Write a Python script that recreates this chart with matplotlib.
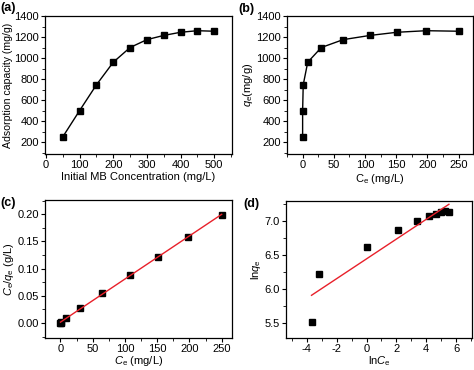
import matplotlib
matplotlib.use("Agg")
import matplotlib.pyplot as plt
from matplotlib.ticker import MultipleLocator
import numpy as np

plt.rcParams['font.family'] = ['Liberation Sans', 'DejaVu Sans']
plt.rcParams['mathtext.fontset'] = 'custom'
plt.rcParams['mathtext.rm'] = 'Liberation Sans'
plt.rcParams['mathtext.it'] = 'Liberation Sans:italic'
plt.rcParams['axes.unicode_minus'] = False

# data
C0 = [50, 100, 150, 200, 250, 300, 350, 400, 450, 500]          # initial MB conc (mg/L)
qe = [250, 500, 745, 960, 1100, 1175, 1215, 1245, 1260, 1255]   # mg/g
Ce = [0.025, 0.041, 1.0, 8.2, 30, 65, 108, 151, 198, 250]       # mg/L

Ce = np.array(Ce)
qe_a = np.array(qe, dtype=float)
ratio = Ce / qe_a          # Ce/qe (g/L)
lnC = np.log(Ce)
lnq = np.log(qe_a)

fig = plt.figure(figsize=(4.74, 3.70), dpi=100)
W, H = 474.0, 370.0
def box(l, t, r, b):
    return [l / W, 1 - b / H, (r - l) / W, (b - t) / H]

axa = fig.add_axes(box(45, 16, 232, 154))
axb = fig.add_axes(box(287, 16, 473, 154))
axc = fig.add_axes(box(45, 200, 232, 338))
axd = fig.add_axes(box(286, 201, 472, 338))

fs = 8
for ax in (axa, axb, axc, axd):
    ax.tick_params(which='both', direction='out', top=False, right=False, labelsize=fs, pad=1.5)
    ax.tick_params(which='major', length=3, width=0.8)
    ax.tick_params(which='minor', length=2, width=0.6)
    for s in ax.spines.values():
        s.set_linewidth(0.9)

# (a)
axa.plot(C0, qe, 'k-s', lw=1, ms=4.5)
axa.set_xlim(-3, 553)
axa.set_ylim(86, 1400)
axa.xaxis.set_major_locator(MultipleLocator(100))
axa.xaxis.set_minor_locator(MultipleLocator(50))
axa.yaxis.set_major_locator(MultipleLocator(200))
axa.yaxis.set_minor_locator(MultipleLocator(100))
axa.set_xlabel("Initial MB Concentration (mg/L)", fontsize=fs, labelpad=1)
axa.set_ylabel("Adsorption capacity (mg/g)", fontsize=7.6, labelpad=1)

# (b)
axb.plot(Ce, qe, 'k-s', lw=1, ms=4.5)
axb.set_xlim(-25, 273)
axb.set_ylim(86, 1400)
axb.xaxis.set_major_locator(MultipleLocator(50))
axb.xaxis.set_minor_locator(MultipleLocator(25))
axb.yaxis.set_major_locator(MultipleLocator(200))
axb.yaxis.set_minor_locator(MultipleLocator(100))
axb.set_xlabel(r"C$_\mathrm{e}$ (mg/L)", fontsize=fs, labelpad=1)
axb.set_ylabel(r"$q_\mathrm{e}$(mg/g)", fontsize=fs, labelpad=1)

# (c)
k, b = np.polyfit(Ce, ratio, 1)
xs = np.array([0, 250])
axc.plot(Ce, ratio, 'ks', ms=4.5)
axc.plot(xs, k * xs + b, color='#e8202a', lw=1)
axc.set_xlim(-24, 266)
axc.set_ylim(-0.0275, 0.226)
axc.xaxis.set_major_locator(MultipleLocator(50))
axc.xaxis.set_minor_locator(MultipleLocator(25))
axc.yaxis.set_major_locator(MultipleLocator(0.05))
axc.yaxis.set_minor_locator(MultipleLocator(0.025))
axc.yaxis.set_major_formatter(plt.FormatStrFormatter('%.2f'))
axc.set_xlabel(r"$C_\mathrm{e}$ (mg/L)", fontsize=fs, labelpad=0)
axc.set_ylabel(r"$C_\mathrm{e}$/$q_\mathrm{e}$ (g/L)", fontsize=fs, labelpad=1)

# (d)
k2, b2 = np.polyfit(lnC, lnq, 1)
xs2 = np.array([lnC.min(), lnC.max()])
axd.plot(lnC, lnq, 'ks', ms=4.5)
axd.plot(xs2, k2 * xs2 + b2, color='#e8202a', lw=1)
axd.set_xlim(-5.4, 7.07)
axd.set_ylim(5.28, 7.29)
axd.xaxis.set_major_locator(MultipleLocator(2))
axd.xaxis.set_minor_locator(MultipleLocator(1))
axd.yaxis.set_major_locator(MultipleLocator(0.5))
axd.yaxis.set_minor_locator(MultipleLocator(0.25))
axd.yaxis.set_major_formatter(plt.FormatStrFormatter('%.1f'))
axd.set_xlabel(r"ln$C_\mathrm{e}$", fontsize=fs, labelpad=0)
axd.set_ylabel(r"ln$q_\mathrm{e}$", fontsize=fs, labelpad=1)

for txt, x, y in [("(a)", 0, 8), ("(b)", 238, 9), ("(c)", 0, 203), ("(d)", 243, 204)]:
    fig.text(x / W, 1 - y / H, txt, fontsize=9, fontweight='bold', va='center', ha='left')

fig.savefig("out.png", dpi=100)
